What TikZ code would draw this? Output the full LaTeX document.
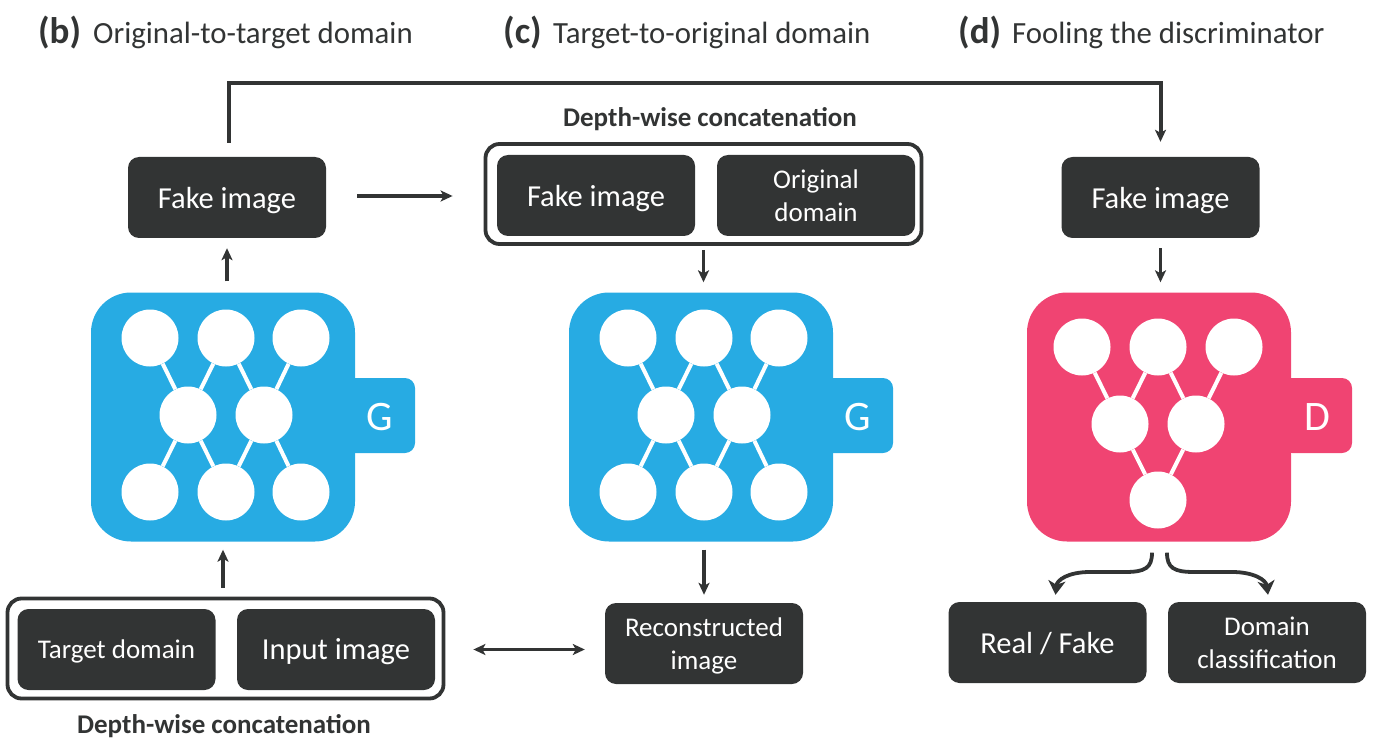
\documentclass[tikz,border=0pt]{standalone}
\usepackage{fontspec}
\setmainfont{Carlito}
\usetikzlibrary{arrows.meta,calc}
\definecolor{dk}{HTML}{323434}
\definecolor{gblue}{HTML}{27ABE3}
\definecolor{dpink}{HTML}{F04472}
\newcommand{\fsz}[1]{\fontsize{#1}{#1}\selectfont}
\newcommand{\fszb}{\fontsize{27}{33}\selectfont}
\tikzset{
  x=1pt,y=-1pt,
  darkbox/.style={rectangle,rounded corners=11pt,fill=dk,text=white,minimum width=198pt,minimum height=81pt,inner sep=0pt,align=center,text depth=-2pt,font=\fsz{30.5}},
  smalltxt/.style={font=\fszb},
  outerbox/.style={rectangle,rounded corners=14pt,draw=dk,line width=3.8pt,minimum width=436pt,minimum height=100pt,inner sep=0pt},
  netblock/.style={rectangle,rounded corners=40pt,minimum width=264pt,minimum height=249pt,inner sep=0pt},
  nettab/.style={rectangle,rounded corners=10pt,minimum width=70pt,minimum height=75pt,inner sep=0pt},
  tabletter/.style={text=white,inner sep=0pt,font=\fsz{42},yshift=-1.5pt},
  neuron/.style={circle,fill=white,minimum size=57pt,inner sep=0pt},
  link/.style={white,line width=4pt},
  conn/.style={dk,line width=3.2pt,-{Stealth[length=12pt,width=11pt,inset=3pt]}},
  curveconn/.style={dk,line width=3.8pt,-{Stealth[length=14pt,width=17pt,inset=4pt]}},
  title/.style={anchor=base west,inner sep=0pt,text=dk,font=\fsz{30.8}},
  letter/.style={anchor=base west,inner sep=0pt,text=dk,font=\fsz{37}\bfseries},
  caption/.style={inner sep=0pt,text=dk,font=\fsz{27}\bfseries},
}
\newcommand{\genblock}[3]{% name, cx, letter
  \node[nettab,fill=gblue] (#1tab) at (#2+157,415.5) {};
  \node[netblock,fill=gblue] (#1) at (#2,417) {};
  \node[tabletter] (#1let) at (#1tab) {#3};
  \foreach \n/\dx/\yy in {a/-73/338,b/3/338,c/78/338,d/-35/415,e/41/415,f/-73/492,g/3/492,h/78/492}
    \node[neuron] (#1\n) at (#2+\dx,\yy) {};
  \foreach \p/\q in {a/d,b/d,b/e,c/e,f/d,g/d,g/e,h/e}
    \draw[link] (#1\p) -- (#1\q);
}
\begin{document}
\begin{tikzpicture}
\useasboundingbox (0,0) rectangle (1392,754);
% titles
\node[letter] (lb) at (38,44) {(b)};
\node[title] (tb) at (93,44) {Original-to-target domain};
\node[letter] (lc) at (503,44) {(c)};
\node[title] (tc) at (553,44) {Target-to-original domain};
\node[letter] (ld) at (958,44) {(d)};
\node[title] (td) at (1012,44) {Fooling the discriminator};
% panel b
\node[darkbox] (fakeb) at (227,197.5) {Fake image};
\genblock{gb}{223}{G}
\node[outerbox] (inb) at (225.5,648.5) {};
\node[darkbox,smalltxt] (target) at (116.5,649.5) {Target domain};
\node[darkbox] (input) at (336,649.5) {Input image};
\node[caption] (capb) at (224,726) {Depth-wise concatenation};
% panel c
\node[caption] (capc) at (710,119) {Depth-wise concatenation};
\node[outerbox] (inc) at (703.5,194) {};
\node[darkbox] (fakec) at (596,195.5) {Fake image};
\node[darkbox,smalltxt] (orig) at (816,195.5) {Original\\domain};
\genblock{gc}{701}{G}
\node[darkbox,smalltxt] (recon) at (704,643.5) {Reconstructed\\image};
% panel d
\node[darkbox] (faked) at (1160.5,197.5) {Fake image};
\node[nettab,fill=dpink] (dtab) at (1317,415.5) {};
\node[netblock,fill=dpink] (disc) at (1159,417) {};
\node[tabletter] (dlet) at (dtab) {D};
\foreach \n/\xx/\yy in {a/1082/347,b/1158/347,c/1234/347,d/1120/424,e/1196/424,f/1158/500}
  \node[neuron] (d\n) at (\xx,\yy) {};
\foreach \p/\q in {a/d,b/d,b/e,c/e,d/f,e/f}
  \draw[link] (d\p) -- (d\q);
\node[darkbox] (real) at (1047.5,642.5) {Real / Fake};
\node[darkbox,smalltxt] (dom) at (1267,642.5) {Domain\\classification};
% connectors
\coordinate (topline) at (700,83);
\coordinate (fakebtop) at ($(fakeb.north)+(1.5,0)$);
\coordinate (fakebside) at ($(fakeb.east)+(0,-1.5)$);
\draw[conn,line width=4pt,shorten <=14pt,shorten >=15pt] (fakebtop) |- (topline) -| (faked.north);
\draw[conn,shorten <=31pt,shorten >=31pt] (fakebside) -- (fakebside -| inc.west);
\draw[conn,line width=3.4pt,shorten <=11pt,shorten >=10pt] (gb.north -| fakeb.south) -- (fakeb.south);
\draw[conn,line width=3.4pt,shorten <=9pt,shorten >=8pt] (inb.north -| gb.south) -- (gb.south);
\draw[conn,shorten <=4pt,shorten >=10pt] (inc.south) -- (gc.north -| inc.south);
\draw[conn,shorten <=8pt,shorten >=8pt] (gc.south -| recon.north) -- (recon.north);
\draw[conn,line width=2.8pt,{Stealth[length=12pt,width=11pt,inset=3pt]}-{Stealth[length=12pt,width=11pt,inset=3pt]},shorten <=28pt,shorten >=20pt] (input.east -| inb.east) -- (input.east -| recon.west);
\draw[conn,line width=3.6pt,shorten <=10pt,shorten >=10pt] (faked.south) -- (disc.north -| faked.south);
\coordinate (splitl) at ($(disc.south)+(-7,11)$);
\coordinate (splitr) at ($(disc.south)+(8,11)$);
\coordinate (endl) at ($(real.north)+(8,-7)$);
\coordinate (endr) at ($(dom.north)+(1,-7)$);
\draw[curveconn] (splitl) .. controls (1152,568) and (1145,572) .. (1125,572) -- (1090,572) .. controls (1068,572) and (1057,580) .. (endl);
\draw[curveconn] (splitr) .. controls (1167,568) and (1174,572) .. (1194,572) -- (1232,572) .. controls (1254,572) and (1266,580) .. (endr);
\end{tikzpicture}
\end{document}
